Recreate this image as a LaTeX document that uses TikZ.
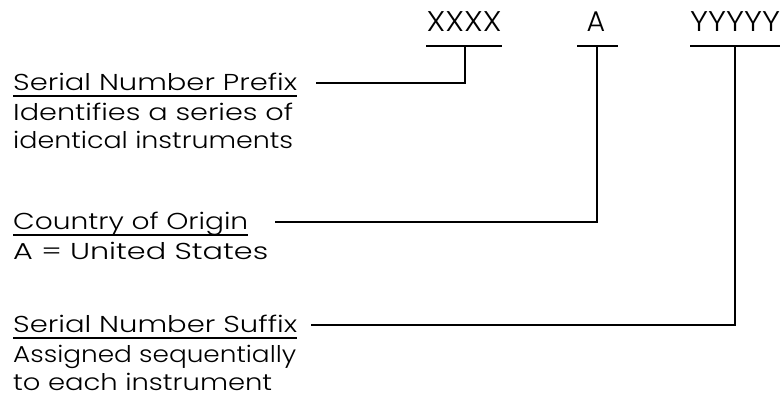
\documentclass[tikz,border=0pt]{standalone}
\usepackage{fontspec}
\setmainfont{Poppins}[UprightFont={* Light}]
\usetikzlibrary{calc}
% set a line of text to a given width without changing its height
\newcommand\spanto[2]{\resizebox{#1pt}{\height}{#2}}
\tikzset{
  lbl/.style={anchor=base west, inner sep=0pt, font=\fontsize{23}{23}\selectfont},
  code/.style={anchor=base, inner sep=0pt, font=\fontsize{28.5}{28.5}\selectfont},
  rule/.style={line width=2pt, black},
}
\begin{document}
\begin{tikzpicture}[x=1pt, y=-1pt]
\useasboundingbox (0,0) rectangle (781,396);

% serial number fields
\node[code] (xx) at (464,32) {\spanto{75}{XXXX}};
\node[code] (aa) at (596,32) {A};
\node[code] (yy) at (735,32) {\spanto{90}{YYYYY}};
\draw[rule] (426,46) -- (502,46);
\draw[rule] (577,46) -- (618,46);
\draw[rule] (690,46) -- (780,46);
\coordinate (xtap) at (465,46);
\coordinate (atap) at (597,46);
\coordinate (ytap) at (735,46);

% prefix description
\node[lbl] (preT) at (13,90)  {\spanto{284}{Serial Number Prefix}};
\node[lbl] (preA) at (13,120) {\spanto{280}{Identifies a series of}};
\node[lbl] (preB) at (13,148) {\spanto{280}{identical instruments}};
\draw[rule] ($(preT.base west)+(0,6)$) -- ($(preT.base east)+(0,6)$);
\coordinate (preLead) at (316,83);

% country description
\node[lbl] (couT) at (13,229) {\spanto{235}{Country of Origin}};
\node[lbl] (couA) at (13,259) {\spanto{255}{A = United States}};
\draw[rule] ($(couT.base west)+(0,6)$) -- ($(couT.base east)+(0,6)$);
\coordinate (couLead) at (275,222);

% suffix description
\node[lbl] (sufT) at (13,332) {\spanto{284}{Serial Number Suffix}};
\node[lbl] (sufA) at (13,362) {\spanto{283}{Assigned sequentially}};
\node[lbl] (sufB) at (13,390) {\spanto{259}{to each instrument}};
\draw[rule] ($(sufT.base west)+(0,6)$) -- ($(sufT.base east)+(0,6)$);
\coordinate (sufLead) at (311,325);

% leaders from each description up to its field
\draw[rule] (preLead) -| (xtap);
\draw[rule] (couLead) -| (atap);
\draw[rule] (sufLead) -| (ytap);
\end{tikzpicture}
\end{document}
